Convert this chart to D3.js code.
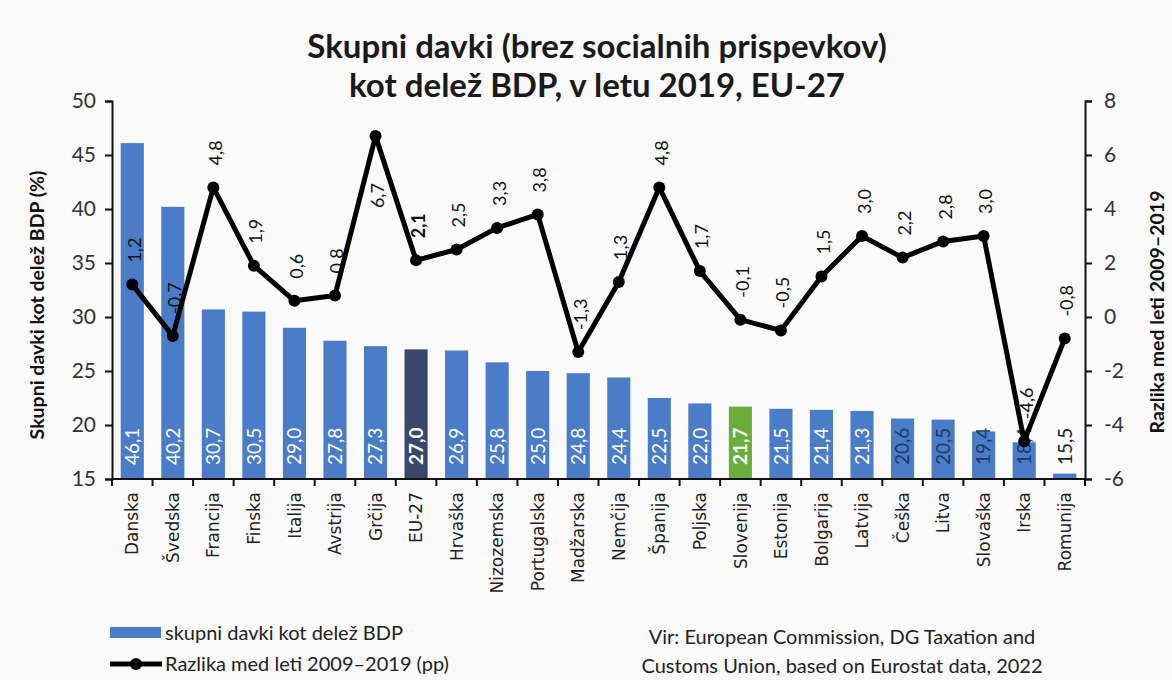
<!DOCTYPE html>
<html>
<head>
<meta charset="utf-8">
<script src="https://cdn.jsdelivr.net/npm/d3@7"></script>
<style>
  html, body { margin: 0; padding: 0; background: #fafafa; }
  svg { display: block; }
</style>
</head>
<body>
<svg id="chart" width="1172" height="680"></svg>
<script>
const categories = ["Danska","Švedska","Francija","Finska","Italija","Avstrija","Grčija","EU-27","Hrvaška","Nizozemska","Portugalska","Madžarska","Nemčija","Španija","Poljska","Slovenija","Estonija","Bolgarija","Latvija","Češka","Litva","Slovaška","Irska","Romunija"];
const taxShare = [46.1,40.2,30.7,30.5,29.0,27.8,27.3,27.0,26.9,25.8,25.0,24.8,24.4,22.5,22.0,21.7,21.5,21.4,21.3,20.6,20.5,19.4,18.4,15.5];
const change0919 = [1.2,-0.7,4.8,1.9,0.6,0.8,6.7,2.1,2.5,3.3,3.8,-1.3,1.3,4.8,1.7,-0.1,-0.5,1.5,3.0,2.2,2.8,3.0,-4.6,-0.8];
const leftTicks = [15,20,25,30,35,40,45,50];
const rightTicks = [-6,-4,-2,0,2,4,6,8];
const highlightEU = "EU-27";
const highlightSI = "Slovenija";

const titleLines = ["Skupni davki (brez socialnih prispevkov)", "kot delež BDP, v letu 2019, EU-27"];
const leftTitle = "Skupni davki kot delež BDP (%)";
const rightTitle = "Razlika med leti 2009–2019";
const legendBar = "skupni davki kot delež BDP";
const legendLine = "Razlika med leti 2009–2019 (pp)";
const sourceLines = ["Vir: European Commission, DG Taxation and", "Customs Union, based on Eurostat data, 2022"];

const svg = d3.select("#chart");
const m = {left: 112, right: 1085, top: 101, bottom: 479};
const FONT = "Lato, 'Open Sans', sans-serif";

const fmt = v => d3.format(".1f")(v).replace(".", ",").replace("\u2212", "-");

const x = d3.scaleBand().domain(categories).range([m.left, m.right]).paddingInner(0.43).paddingOuter(0.215);
const yL = d3.scaleLinear().domain([15, 50]).range([m.bottom, m.top]);
const yR = d3.scaleLinear().domain([-6, 8]).range([m.bottom, m.top]);

const blue = "#4a7cc8", dark = "#38476a", green = "#6bad3c";
const colorOf = c => c === highlightEU ? dark : (c === highlightSI ? green : blue);

const data = categories.map((c, i) => ({c, v: taxShare[i], d: change0919[i]}));

// Title
svg.append("g").selectAll("text").data(titleLines).join("text")
  .attr("x", 597).attr("y", (d, i) => 58 + i * 39)
  .attr("text-anchor", "middle")
  .attr("font-family", FONT)
  .attr("font-weight", "bold").attr("font-size", 33).attr("fill", "#1a1a1a")
  .text(d => d);

// Bars
svg.append("g").selectAll("rect").data(data).join("rect")
  .attr("x", d => x(d.c)).attr("width", x.bandwidth())
  .attr("y", d => yL(d.v)).attr("height", d => yL(15) - yL(d.v))
  .attr("fill", d => colorOf(d.c));

// Bar value labels
const barLabels = svg.append("g").selectAll("text").data(data).join("text")
  .attr("transform", d => `translate(${x(d.c) + x.bandwidth() / 2},${m.bottom - 14}) rotate(-90)`)
  .attr("dy", "0.36em")
  .attr("text-anchor", "start")
  .attr("font-family", FONT)
  .attr("font-size", 19)
  .attr("font-weight", d => (d.c === highlightEU || d.c === highlightSI) ? "bold" : "normal")
  .text(d => fmt(d.v));
barLabels.attr("fill", function(d) {
  const len = this.getComputedTextLength();
  const h = yL(15) - yL(d.v);
  if (h < 15) return "#222";
  return h < len + 28 ? "#1f3864" : "#ffffff";
});

// Axes
const axL = svg.append("g").attr("transform", `translate(${m.left},0)`)
  .call(d3.axisLeft(yL).tickValues(leftTicks).tickSize(7).tickPadding(9).tickFormat(d => d));
const axR = svg.append("g").attr("transform", `translate(${m.right},0)`)
  .call(d3.axisRight(yR).tickValues(rightTicks).tickSize(7).tickPadding(12).tickFormat(d => String(d)));
[axL, axR].forEach(a => {
  a.select(".domain").attr("stroke", "#111").attr("stroke-width", 2);
  a.selectAll(".tick line").attr("stroke", "#111").attr("stroke-width", 2);
  a.selectAll(".tick text").attr("font-family", FONT)
    .attr("font-size", 21).attr("fill", "#333");
});

// Bottom axis line and category boundary ticks
const bottom = svg.append("g");
bottom.append("line").attr("x1", m.left).attr("x2", m.right).attr("y1", m.bottom).attr("y2", m.bottom)
  .attr("stroke", "#111").attr("stroke-width", 2);
const edge = i => (i < categories.length ? x(categories[i]) - x.paddingInner() * x.step() / 2 : m.right);
bottom.selectAll("line.bt").data(d3.range(categories.length + 1)).join("line").attr("class", "bt")
  .attr("x1", i => i === 0 ? m.left : edge(i))
  .attr("x2", i => i === 0 ? m.left : edge(i))
  .attr("y1", m.bottom).attr("y2", m.bottom + 7)
  .attr("stroke", "#111").attr("stroke-width", 2);

// Category labels
svg.append("g").selectAll("text").data(categories).join("text")
  .attr("transform", d => `translate(${x(d) + x.bandwidth() / 2},${m.bottom + 13}) rotate(-90)`)
  .attr("dy", "0.36em").attr("text-anchor", "end")
  .attr("font-family", "'DejaVu Sans', Verdana, sans-serif")
  .attr("font-size", 17).attr("fill", "#222")
  .text(d => d);

// Line
const line = d3.line().x(d => x(d.c) + x.bandwidth() / 2).y(d => yR(d.d));
svg.append("path").datum(data).attr("d", line)
  .attr("fill", "none").attr("stroke", "#000").attr("stroke-width", 5).attr("stroke-linejoin", "round");
svg.append("g").selectAll("circle").data(data).join("circle")
  .attr("cx", d => x(d.c) + x.bandwidth() / 2).attr("cy", d => yR(d.d)).attr("r", 6).attr("fill", "#000");

// Line labels
svg.append("g").selectAll("text").data(data).join("text")
  .attr("font-family", FONT)
  .attr("font-size", 18).attr("fill", "#111")
  .attr("font-weight", d => d.c === highlightEU ? "bold" : "normal")
  .text(d => fmt(d.d))
  .each(function(d) {
    const len = this.getComputedTextLength();
    const px = x(d.c) + x.bandwidth() / 2 + 2;
    const py = yR(d.d);
    const sel = d3.select(this).attr("dy", "0.36em");
    if (py - 22 - len > m.top - 5) {
      sel.attr("transform", `translate(${px},${py - 22}) rotate(-90)`).attr("text-anchor", "start");
    } else {
      sel.attr("transform", `translate(${px},${py + 47}) rotate(-90)`).attr("text-anchor", "end");
    }
  });

// Axis titles
svg.append("text").attr("transform", `translate(37,305) rotate(-90)`)
  .attr("text-anchor", "middle").attr("dy", "0.36em")
  .attr("font-family", FONT).attr("font-weight", "bold")
  .attr("font-size", 19.5).attr("fill", "#111").text(leftTitle);
svg.append("text").attr("transform", `translate(1157,312) rotate(-90)`)
  .attr("text-anchor", "middle").attr("dy", "0.36em")
  .attr("font-family", FONT).attr("font-weight", "bold")
  .attr("font-size", 19.5).attr("fill", "#111").text(rightTitle);

// Legend
const lg = svg.append("g").attr("font-family", FONT).attr("font-size", 20).attr("fill", "#222");
lg.append("rect").attr("x", 110).attr("y", 627).attr("width", 51).attr("height", 11).attr("fill", blue);
lg.append("text").attr("x", 165).attr("y", 640).text(legendBar);
lg.append("line").attr("x1", 110).attr("x2", 162).attr("y1", 664).attr("y2", 664).attr("stroke", "#000").attr("stroke-width", 5);
lg.append("circle").attr("cx", 136).attr("cy", 664).attr("r", 6).attr("fill", "#000");
lg.append("text").attr("x", 165).attr("y", 671).text(legendLine);

// Source
svg.append("g").selectAll("text").data(sourceLines).join("text")
  .attr("x", 842).attr("y", (d, i) => 644 + i * 29).attr("text-anchor", "middle")
  .attr("font-family", FONT).attr("font-size", 20).attr("fill", "#222")
  .text(d => d);
</script>
</body>
</html>
